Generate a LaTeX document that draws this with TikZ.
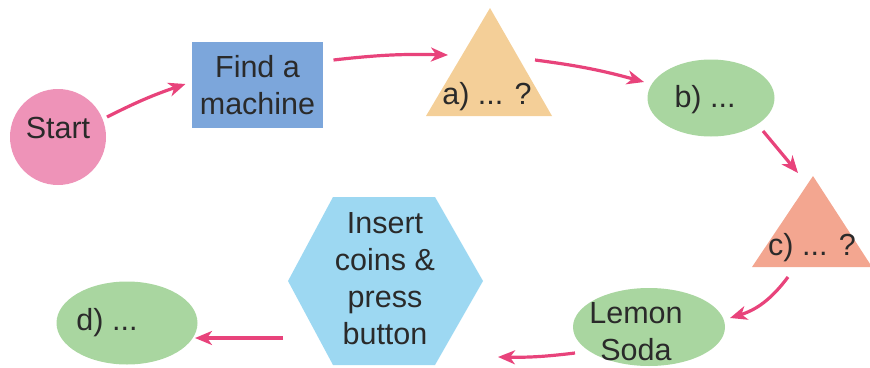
\documentclass[tikz,border=0pt]{standalone}
\usepackage{fontspec}
\setmainfont{Liberation Sans}
\usetikzlibrary{shapes.geometric,arrows.meta,calc}
\definecolor{startpink}{HTML}{EE93B8}
\definecolor{findblue}{HTML}{7CA6DB}
\definecolor{triaA}{HTML}{F4CF98}
\definecolor{greenB}{HTML}{A9D6A0}
\definecolor{triaC}{HTML}{F3A690}
\definecolor{hexblue}{HTML}{9DD8F2}
\definecolor{arrowpink}{HTML}{E8437B}
\definecolor{textgray}{HTML}{2A2A2A}
\begin{document}
\begin{tikzpicture}[x=1pt,y=-1pt,
  font=\fontsize{30.5}{37}\selectfont,
  txt/.style={text=textgray, align=center, inner sep=0pt},
  arr/.style={draw=arrowpink, line width=3.2pt, -{Stealth[length=17pt,width=14pt,inset=5pt]}},
  blob/.style={ellipse, inner sep=0pt, fill=greenB}]
\useasboundingbox (0,0) rectangle (870,367);
% shapes
\node[circle, fill=startpink, minimum size=96pt, inner sep=0pt] (start) at (58,137) {};
\node[txt] (startT) at (58,128) {Start};
\node[rectangle, fill=findblue, minimum width=131pt, minimum height=86pt, txt] (find) at (257.5,85) {Find a\\machine};
\coordinate (aTop) at (490,8);
\fill[triaA] (aTop) -- (552,116) -- (426,116) -- cycle;
\node[txt] (aT) at (487,97) {a) ... ?};
\node[blob, minimum width=127pt, minimum height=77pt] (b) at (711,98) {};
\node[txt] (bT) at (705,100) {b) ...};
\coordinate (cTop) at (813,176);
\fill[triaC] (cTop) -- (872,267) -- (752,267) -- cycle;
\node[txt] (cT) at (812,248) {c) ... ?};
\node[blob, minimum width=152pt, minimum height=78pt] (lemon) at (649,327) {};
\node[txt] (lemonT) at (636,332) {Lemon\\Soda};
\coordinate (hexC) at (385,281);
\fill[hexblue] (288,281) -- (333,197) -- (435,197) -- (483,281) -- (435,365) -- (333,365) -- cycle;
\node[txt] (hexT) at (385,279) {Insert\\coins \&\\press\\button};
\node[blob, minimum width=141pt, minimum height=83pt] (d) at (127,323) {};
\node[txt] (dT) at (107,323) {d) ...};
% connectors
\draw[arr] ($(start.center)+(49,-20)$) to[bend left=4] ($(find.center)+(-72,-1)$);
\draw[arr] ($(find.center)+(76,-25)$) to[bend left=4] ($(aTop)+(-42,47)$);
\draw[arr] ($(aTop)+(45,52)$) to[bend left=4] ($(b.center)+(-67,-16)$);
\draw[arr] ($(b.center)+(52,33)$) -- ($(cTop)+(-15,-3)$);
\draw[arr] ($(cTop)+(-25,101)$) to[bend right=-18] ($(lemon.center)+(81,-9)$);
\draw[arr] ($(lemon.center)+(-74,26)$) to[bend right=-4] ($(hexC)+(113,76)$);
\draw[arr] ($(hexC)+(-102,57)$) -- ($(d.center)+(68,15)$);
\end{tikzpicture}
\end{document}
